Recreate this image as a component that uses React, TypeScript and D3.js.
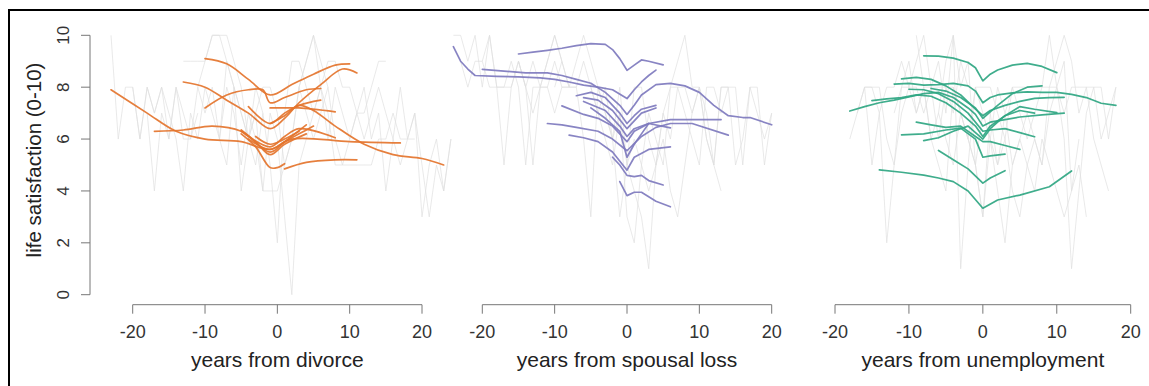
import React from "react";
import * as d3 from "d3";

type Pt = [number, number];

const xTicks = [-20, -10, 0, 10, 20];
const yTicks = [0, 2, 4, 6, 8, 10];
const panelTitles = ["years from divorce", "years from spousal loss", "years from unemployment"];
const yTitle = "life satisfaction (0-10)";

// ---- raw (gray) individual series: start year + yearly integer values ----
const divorceRaw: { start: number; values: number[] }[] = [
  { start: -23, values: [10, 6, 8, 8, 6, 8, 7, 8, 6, 8, 7, 6, 7] },
  { start: -18, values: [7, 4, 7, 6, 8, 6, 6, 8, 9, 10, 10, 9, 8, 7, 6, 7, 8, 8, 7, 5, 6, 8, 9, 10, 9, 8] },
  { start: -13, values: [9, 9, 9, 9, 10, 10, 10, 9, 8, 6, 7, 4, 4, 4, 5, 6, 8, 9, 10, 8, 9, 9, 8, 8, 7, 7, 8, 9, 9] },
  { start: -8, values: [6, 8, 7, 5, 7, 6, 4, 7, 6, 3, 0, 5, 6, 7, 8, 7, 5, 5, 5, 5, 5, 5, 6, 6, 7, 6, 6, 6] },
  { start: -11, values: [8, 7, 8, 6, 5, 8, 7, 6, 8, 7, 5, 2, 7, 9, 9, 8, 7, 8, 6, 8, 7, 6, 7, 8, 6, 7, 4, 6, 8, 6, 7, 5, 3, 5, 4, 6] },
  { start: 3, values: [8, 7, 6, 7, 8, 6, 5, 6, 7, 6, 7, 8, 7, 6, 5, 6, 7, 3, 5, 6, 4, 6] },
  { start: -20, values: [8, 6, 8, 7, 8, 7, 6, 4, 7, 6, 8, 7, 6, 9, 8, 4, 6, 5, 7] },
];

const spousalRaw: { start: number; values: number[] }[] = [
  { start: -24, values: [10, 10, 9, 10, 8, 10, 8, 8, 8, 9, 8, 5, 8, 8, 9, 8, 8] },
  { start: -20, values: [9, 10, 8, 8, 9, 8, 5, 8, 8, 8, 7, 8, 8, 9, 10, 9, 8, 7, 6, 3, 5, 8, 8, 6, 5, 7, 8, 9, 10, 8, 8, 7, 5, 8, 8] },
  { start: -10, values: [8, 9, 8, 8, 6, 3, 8, 7, 6, 8, 5, 4, 3, 1, 5, 6, 4, 3, 5, 7, 8, 6, 5, 4] },
  { start: -5, values: [8, 7, 6, 5, 7, 3, 2, 5, 4, 5, 7, 6, 8, 8, 7, 8, 6, 5, 8, 8, 5, 6, 8, 8, 5, 7] },
  { start: -15, values: [9, 8, 7, 8, 9, 10, 9, 8, 8, 9, 8, 7, 8, 6, 7, 5, 6, 5, 7, 6, 5, 8, 8, 7, 6, 5, 8, 8, 7, 8, 8, 5, 8, 7, 6, 7] },
  { start: -23, values: [9, 8, 9, 9, 8, 8, 5, 8, 9, 8, 9, 8, 9, 10, 9] },
];

const unemploymentRaw: { start: number; values: number[] }[] = [
  { start: -18, values: [6, 7, 8, 8, 8, 6, 5, 8, 8, 7, 8, 8, 8, 8, 8, 7, 6, 8, 8, 8, 7, 6, 8, 8, 8, 8, 8, 8, 8, 7, 8, 8, 8, 8, 8, 6, 8] },
  { start: -16, values: [8, 5, 7, 2, 5, 7, 8, 9, 10, 8, 9, 7, 10, 1, 5, 8, 7, 6, 5, 7, 8, 7, 6, 7, 8, 10, 8, 9, 4, 5, 3] },
  { start: -12, values: [7, 8, 9, 7, 8, 6, 5, 4, 8, 7, 6, 5, 3, 7, 5, 6, 4, 3, 5, 6, 5, 7, 8, 6, 1, 4, 7, 8, 6, 7, 8] },
  { start: -9, values: [10, 8, 6, 7, 9, 10, 8, 9, 5, 7, 6, 8, 7, 5, 6, 7, 6, 5, 8, 9, 10, 9, 7, 8, 6, 5, 4] },
  { start: -6, values: [7, 6, 5, 7, 6, 5, 3, 6, 4, 2, 5, 6, 5, 4, 6, 5, 4, 3, 4, 6] },
  { start: -17, values: [7, 8, 8, 7, 8, 8, 9, 8, 8, 7, 8, 6, 8, 7, 9, 8] },
];

// ---- fitted individual trajectories ----
const divorceFits: Pt[][] = [
  [[-23, 7.9], [-18, 7.0], [-14, 6.3], [-10, 6.0], [-5, 5.9], [-1, 5.6], [2, 6.0], [10, 5.9], [17, 5.85]],
  [[-17, 6.3], [-13, 6.35], [-9, 6.5], [-5, 6.3], [-1, 5.5], [1, 5.9], [4, 6.55]],
  [[-13, 8.2], [-10, 8.0], [-7, 7.5], [-4, 7.0], [-1, 6.4], [1, 6.8], [3, 7.4], [6, 8.1], [9, 8.7], [11, 8.55]],
  [[-10, 9.1], [-7, 8.9], [-4, 8.3], [-1, 7.7], [2, 8.1], [5, 8.5], [8, 8.85], [10, 8.9]],
  [[-10, 7.2], [-7, 7.7], [-4, 7.9], [-2, 7.9], [-1, 7.4], [1, 7.6], [4, 7.9], [6, 7.95]],
  [[-4, 7.25], [-1, 6.6], [1, 7.0], [3, 7.3], [6, 7.5]],
  [[-1, 7.2], [1, 7.2], [3, 7.2], [8, 7.05]],
  [[-1, 6.6], [1, 6.9], [3, 7.3], [5, 7.1], [8, 6.5], [12, 5.8], [16, 5.4], [20, 5.25], [23, 5.0]],
  [[-5, 6.3], [-1, 5.7], [1, 6.1], [3, 6.4], [8, 6.05]],
  [[-5, 6.2], [-3, 5.7], [-1, 4.9], [0, 4.9], [1, 5.05]],
  [[1, 4.85], [4, 5.1], [8, 5.2], [11, 5.2]],
  [[-5, 6.35], [-3, 5.9], [-1, 5.4], [1, 5.8], [4, 6.2]],
  [[-3, 6.1], [-1, 5.8], [1, 6.0], [3, 6.3]],
  [[-4, 6.0], [-1, 5.6], [1, 5.9], [3, 6.2], [5, 6.5]],
];

const spousalFits: Pt[][] = [
  [[-24, 9.56], [-23, 9.0], [-22, 8.7], [-21, 8.45], [-18, 8.42], [-15, 8.4], [-12, 8.36], [-10, 8.3], [-8, 8.2], [-6, 8.08], [-4, 8.0], [-2, 7.9], [0, 7.56], [1, 7.9], [2, 8.2], [3, 8.45], [4, 8.66]],
  [[-15, 9.28], [-13, 9.35], [-11, 9.42], [-9, 9.5], [-7, 9.6], [-5, 9.68], [-3, 9.65], [-2, 9.45], [-1, 9.1], [0, 8.65], [1, 8.85], [2, 9.05], [3, 9.0], [5, 8.86]],
  [[-20, 8.69], [-17, 8.62], [-14, 8.55], [-11, 8.55], [-9, 8.45], [-7, 8.3], [-5, 8.15], [-3, 7.8], [-1, 7.3], [0, 6.95], [1, 7.3], [2, 7.7], [4, 8.1], [6, 8.15], [8, 8.05], [10, 7.8], [12, 7.3], [14, 6.9], [16, 6.83], [17, 6.83], [20, 6.55]],
  [[-7, 7.67], [-5, 7.8], [-3, 7.6], [-1, 7.0], [0, 6.6], [1, 6.9], [2, 7.15], [4, 7.3]],
  [[-6, 7.6], [-4, 7.5], [-2, 7.1], [0, 6.4], [1, 6.7], [2, 7.0], [4, 7.2]],
  [[-9, 7.28], [-6, 6.95], [-4, 6.8], [-2, 6.5], [0, 5.9], [1, 6.3], [3, 6.6], [6, 6.75], [9, 6.75], [13, 6.75]],
  [[-11, 6.6], [-9, 6.55], [-7, 6.45], [-4, 6.3], [-2, 6.0], [0, 5.55], [2, 6.1], [4, 6.45], [6, 6.6], [9, 6.6], [14, 6.15]],
  [[-8, 6.15], [-6, 6.05], [-4, 5.9], [-2, 5.5], [0, 4.8], [1, 5.3], [3, 5.6], [6, 5.7]],
  [[-6, 7.45], [-3, 7.1], [-1, 6.5], [0, 6.1], [1, 6.4], [3, 6.6], [6, 6.43]],
  [[-2, 5.3], [-1, 5.0], [0, 4.6], [1, 4.55], [2, 4.6], [3, 4.4], [5, 4.23]],
  [[-1, 4.36], [0, 3.82], [1, 3.95], [2, 3.95], [4, 3.6], [6, 3.39]],
  [[-5, 7.2], [-3, 6.8], [-1, 6.3], [0, 5.3], [1, 5.8], [2, 6.2], [3, 6.6]],
];

const unemploymentFits: Pt[][] = [
  [[-8, 9.21], [-6, 9.2], [-4, 9.12], [-2, 8.95], [-1, 8.75], [0, 8.24], [1, 8.5], [2, 8.66], [4, 8.85], [6, 8.92], [8, 8.8], [10, 8.56]],
  [[-12, 8.12], [-10, 8.15], [-8, 8.08], [-6, 8.1], [-4, 8.15], [-2, 8.05], [-1, 7.85], [0, 7.4], [1, 7.6], [2, 7.7], [4, 7.78], [6, 7.82], [8, 7.8], [10, 7.8], [12, 7.72], [14, 7.6], [16, 7.38], [18, 7.3]],
  [[-18, 7.08], [-16, 7.25], [-14, 7.4], [-12, 7.5], [-10, 7.62], [-8, 7.75], [-6, 7.8], [-4, 7.6], [-2, 7.2], [-1, 6.95], [0, 6.5], [1, 6.65], [3, 6.75], [5, 6.85], [8, 6.93], [11, 7.0]],
  [[-11, 8.32], [-9, 8.38], [-7, 8.3], [-5, 8.05], [-3, 7.7], [-1, 7.15], [0, 6.9], [1, 7.1], [3, 7.3], [5, 7.45], [7, 7.57], [9, 7.6], [11, 7.61]],
  [[-15, 7.48], [-13, 7.55], [-11, 7.6], [-9, 7.7], [-7, 7.65], [-5, 7.4], [-3, 7.0], [-1, 6.5], [0, 6.1], [1, 6.5], [3, 6.9], [5, 7.25], [7, 7.15], [10, 7.02]],
  [[-10, 7.92], [-8, 7.9], [-6, 7.75], [-4, 7.45], [-2, 7.0], [0, 6.3], [1, 6.35], [3, 6.4], [5, 6.25], [7, 6.09]],
  [[-9, 6.65], [-7, 6.55], [-5, 6.45], [-3, 6.5], [-1, 6.1], [0, 5.9], [1, 5.9], [3, 5.75], [5, 5.6]],
  [[-11, 6.16], [-8, 6.2], [-5, 6.35], [-3, 6.42], [-1, 6.0], [0, 5.3], [1, 5.35], [3, 5.42]],
  [[-8, 5.94], [-6, 6.05], [-4, 6.3], [-2, 6.5], [0, 6.0], [1, 6.4], [3, 6.9], [5, 7.1], [7, 7.0]],
  [[-7, 7.95], [-5, 7.85], [-3, 7.6], [-1, 7.2], [0, 6.8], [2, 7.3], [4, 7.75], [6, 8.0], [8, 8.05]],
  [[-6, 5.56], [-4, 5.2], [-2, 4.85], [0, 4.3], [1, 4.5], [3, 4.78]],
  [[-14, 4.81], [-11, 4.72], [-8, 4.61], [-6, 4.5], [-4, 4.36], [-2, 4.0], [0, 3.33], [2, 3.65], [5, 3.84], [9, 4.16], [12, 4.77]],
];

const panels = [
  { raw: divorceRaw, fits: divorceFits, color: "#E4742C", range: [132.7, 422], smooth: true },
  { raw: spousalRaw, fits: spousalFits, color: "#7E79BE", range: [482.3, 771.7], smooth: false },
  { raw: unemploymentRaw, fits: unemploymentFits, color: "#2FA682", range: [835, 1130.7], smooth: false },
];

const W = 1149;
const H = 386;
const FONT = "'Liberation Sans', Arial, Helvetica, sans-serif";

export default function App() {
  const y = d3.scaleLinear().domain([0, 10]).range([294.7, 35.3]);
  const axisY = 304.7;

  return (
    <svg width={W} height={H} style={{ position: "absolute", left: 0, top: 0, background: "#fff" }}>
      <rect x={0} y={0} width={W} height={H} fill="#fff" />
      <rect x={9} y={10} width={W + 20} height={H + 20} fill="none" stroke="#000" strokeWidth={2} />

      {/* y axis */}
      <line x1={90} x2={90} y1={y(0)} y2={y(10)} stroke="#777" strokeWidth={1} />
      {yTicks.map((t) => (
        <g key={t}>
          <line x1={81} x2={90} y1={y(t)} y2={y(t)} stroke="#777" strokeWidth={1} />
          <text
            transform={`translate(68.5,${y(t)}) rotate(-90)`}
            textAnchor="middle"
            fontFamily={FONT}
            fontSize={17}
            fill="#333"
          >
            {t}
          </text>
        </g>
      ))}
      <text
        transform={`translate(41,160) rotate(-90)`}
        textAnchor="middle"
        fontFamily={FONT}
        fontSize={20.5}
        fill="#222"
      >
        {yTitle}
      </text>

      {panels.map((p, pi) => {
        const x = d3.scaleLinear().domain([-20, 20]).range(p.range as [number, number]);
        const rawLine = d3
          .line<Pt>()
          .x((d) => x(d[0]))
          .y((d) => y(d[1]));
        const fitLine = d3
          .line<Pt>()
          .x((d) => x(d[0]))
          .y((d) => y(d[1]))
          .curve(p.smooth ? d3.curveCatmullRom.alpha(0.5) : d3.curveLinear);
        return (
          <g key={pi}>
            {p.raw.map((s, si) => {
              const pts: Pt[] = s.values.map((v, i) => [s.start + i, v]);
              return (
                <path key={si} d={rawLine(pts) || ""} fill="none" stroke="#e0e0e0" strokeOpacity={0.7} strokeWidth={1} />
              );
            })}
            {p.fits.map((f, fi) => (
              <path
                key={fi}
                d={fitLine(f) || ""}
                fill="none"
                stroke={p.color}
                strokeWidth={1.7}
                strokeOpacity={0.92}
                strokeLinejoin="round"
                strokeLinecap="round"
              />
            ))}
            {/* x axis */}
            <line x1={x(-20)} x2={x(20)} y1={axisY} y2={axisY} stroke="#777" strokeWidth={1} />
            {xTicks.map((t) => (
              <g key={t}>
                <line x1={x(t)} x2={x(t)} y1={axisY} y2={axisY + 9} stroke="#777" strokeWidth={1} />
                <text x={x(t)} y={338.3} textAnchor="middle" fontFamily={FONT} fontSize={18} fill="#333">
                  {t}
                </text>
              </g>
            ))}
            <text
              x={(x(-20) + x(20)) / 2}
              y={366.5}
              textAnchor="middle"
              fontFamily={FONT}
              fontSize={21}
              fill="#222"
            >
              {panelTitles[pi]}
            </text>
          </g>
        );
      })}
    </svg>
  );
}
